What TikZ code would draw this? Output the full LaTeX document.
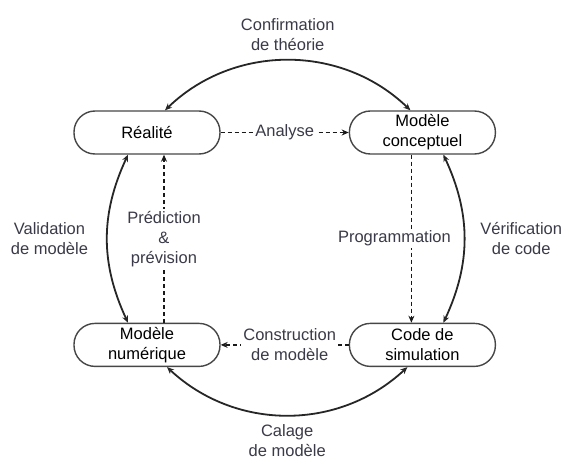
\documentclass[tikz,border=0pt]{standalone}
\usepackage{fontspec}
\setmainfont{Liberation Sans}
\usetikzlibrary{arrows.meta,positioning}
\definecolor{labelgray}{RGB}{58,58,72}
\definecolor{boxline}{RGB}{70,70,70}

\begin{document}
\begin{tikzpicture}[
      x=1pt, y=-1pt,
      node distance=128pt,
      stage/.style={draw=boxline, line width=1.4pt, rounded corners=21pt, align=center, minimum width=146pt, minimum height=43pt, inner sep=2pt, font=\fontsize{16.5}{20}\selectfont},
      ring/.style={{Stealth[length=7pt,width=6pt]}-{Stealth[length=7pt,width=6pt]}, line width=1.8pt, black!85},
      flow/.style={-{Stealth[length=7pt,width=6pt]}, line width=1.5pt, dash pattern=on 4pt off 3pt, black!90},
      lbl/.style={text=labelgray, align=center, font=\fontsize{16.5}{20}\selectfont},
      onflow/.style={lbl, fill=white, inner sep=2pt}
  ]
      \useasboundingbox (0,0) rectangle (562,463);

      \node[stage] (real) at (147,132.5) {Réalité};
      \node[stage, right=of real] (conc) {Modèle\\conceptuel};
      \node[stage, below=168pt of real] (num) {Modèle\\numérique};
      \node[stage, below=168pt of conc] (code) {Code de\\simulation};

      % outer cycle
      \draw[ring] ([xshift=18pt]real.north) to[bend left=44] node[lbl, above=6pt] {Confirmation\\de théorie} ([xshift=-12pt]conc.north);
      \draw[ring] ([xshift=-19pt]real.south) to[bend right=25] node[lbl, left=15pt] {Validation\\de modèle} ([xshift=-19pt]num.north);
      \draw[ring] ([xshift=21pt]conc.south) to[bend left=25] node[lbl, right=12pt] {Vérification\\de code} ([xshift=21pt]code.north);
      \draw[ring] ([xshift=20pt]num.south) to[bend right=43] node[lbl, below=5pt] {Calage\\de modèle} ([xshift=-15pt]code.south);

      % inner flows
      \draw[flow] (real) -- node[onflow] {Analyse} (conc);
      \draw[flow] ([xshift=-11pt]conc.south) -- node[onflow, xshift=-17pt] {Programmation} ([xshift=-11pt]code.north);
      \draw[flow] (code) -- node[onflow, xshift=5pt] {Construction\\de modèle} (num);
      \draw[flow] ([xshift=17pt]num.north) -- node[onflow] {Prédiction\\\&\\prévision} ([xshift=17pt]real.south);
  \end{tikzpicture}
\end{document}
